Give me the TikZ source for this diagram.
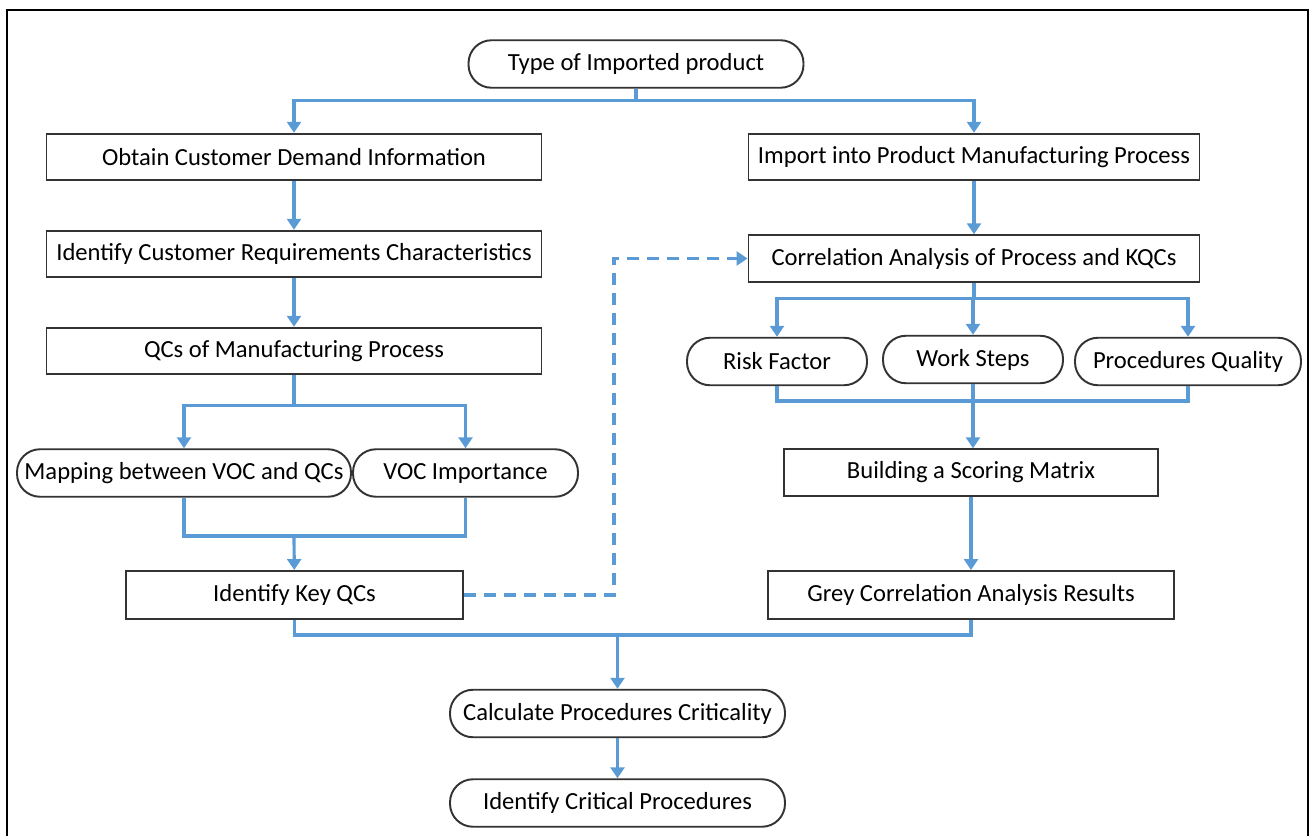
\documentclass[tikz,border=0pt]{standalone}
\usepackage{fontspec}
\setmainfont{Carlito}
\usetikzlibrary{arrows.meta}

\definecolor{flowblue}{RGB}{91,155,213}

\begin{document}
\begin{tikzpicture}[
    nodes={draw=black!80, line width=1.1pt, anchor=center, font=\fontsize{14}{16}\selectfont, inner sep=0pt},
    box/.style={rectangle, minimum height=0.93cm},
    term/.style={rectangle, rounded corners=0.46cm, minimum height=0.95cm},
    line/.style={draw=flowblue, line width=1.8pt},
    arr/.style={line, -{Triangle[width=0.28cm, length=0.22cm]}}]
        \useasboundingbox (0,0) rectangle (26.24,-16.72);
        \draw[line width=1pt, black] (0.14,-17) -- (0.14,-0.2) -- (26.16,-0.2) -- (26.16,-17);

        % left column
        \node[term, minimum width=6.7cm]  (type)     at (12.72,-1.28)  {Type of Imported product};
        \node[box,  minimum width=9.9cm]  (obtain)   at (5.88,-3.14)   {Obtain Customer Demand Information};
        \node[box,  minimum width=9.9cm]  (identify) at (5.88,-5.08)   {Identify Customer Requirements Characteristics};
        \node[box,  minimum width=9.9cm]  (qcs)      at (5.88,-7.02)   {QCs of Manufacturing Process};
        \node[term, minimum width=6.68cm] (mapping)  at (3.68,-9.46)   {Mapping between VOC and QCs};
        \node[term, minimum width=4.5cm]  (vocimp)   at (9.31,-9.46)   {VOC Importance};
        \node[box,  minimum width=6.74cm, minimum height=0.96cm] (keyqcs) at (5.89,-11.9) {Identify Key QCs};

        % right column
        \node[box,  minimum width=9.02cm] (import)   at (19.48,-3.14)  {Import into Product Manufacturing Process};
        \node[box,  minimum width=9.02cm] (corr)     at (19.48,-5.17)  {Correlation Analysis of Process and KQCs};
        \node[term, minimum width=3.6cm]  (risk)     at (15.54,-7.23)  {Risk Factor};
        \node[term, minimum width=3.6cm]  (work)     at (19.46,-7.19)  {Work Steps};
        \node[term, minimum width=4.52cm] (procq)    at (23.76,-7.23)  {Procedures Quality};
        \node[box,  minimum width=7.48cm] (build)    at (19.42,-9.45)  {Building a Scoring Matrix};
        \node[box,  minimum width=8.12cm, minimum height=0.96cm] (grey) at (19.42,-11.9) {Grey Correlation Analysis Results};

        % bottom
        \node[term, minimum width=6.7cm]  (calc)     at (12.35,-14.27) {Calculate Procedures Criticality};
        \node[term, minimum width=6.7cm]  (critical) at (12.35,-16.06) {Identify Critical Procedures};

        \coordinate (m1) at (5.88,-10.72);
        \coordinate (m2) at (12.35,-12.7);

        \draw[arr] (type.south) -- ++(0,-0.24) -| (obtain);
        \draw[arr] (type.south) -- ++(0,-0.24) -| (import);
        \draw[arr] (obtain) -- (identify);
        \draw[arr] (identify) -- (qcs);
        \draw[arr] (qcs.south) -- ++(0,-0.6) -| (mapping);
        \draw[arr] (qcs.south) -- ++(0,-0.6) -| (vocimp);
        \draw[line] (mapping.south) |- (m1) -| (vocimp.south);
        \draw[arr] (m1) -- (keyqcs);
        \draw[arr, dash pattern=on 0.24cm off 0.16cm] (keyqcs.east) -- ++(3.0,0) |- (corr.west);

        \draw[arr] (import) -- (corr);
        \draw[arr] (corr.south) -- ++(0,-0.32) -| (risk);
        \draw[arr] (corr.south) -- ++(0,-0.32) -| (work);
        \draw[arr] (corr.south) -- ++(0,-0.32) -| (procq);
        \draw[line] (risk.south) |- (work.south |- 0,-8.02) -| (procq.south);
        \draw[arr] (work.south) -- (work.south |- build.north);
        \draw[arr] (build) -- (grey);

        \draw[line] (keyqcs.south) |- (m2) -| (grey.south);
        \draw[arr] (m2) -- (calc);
        \draw[arr] (calc) -- (critical);
    \end{tikzpicture}
\end{document}
